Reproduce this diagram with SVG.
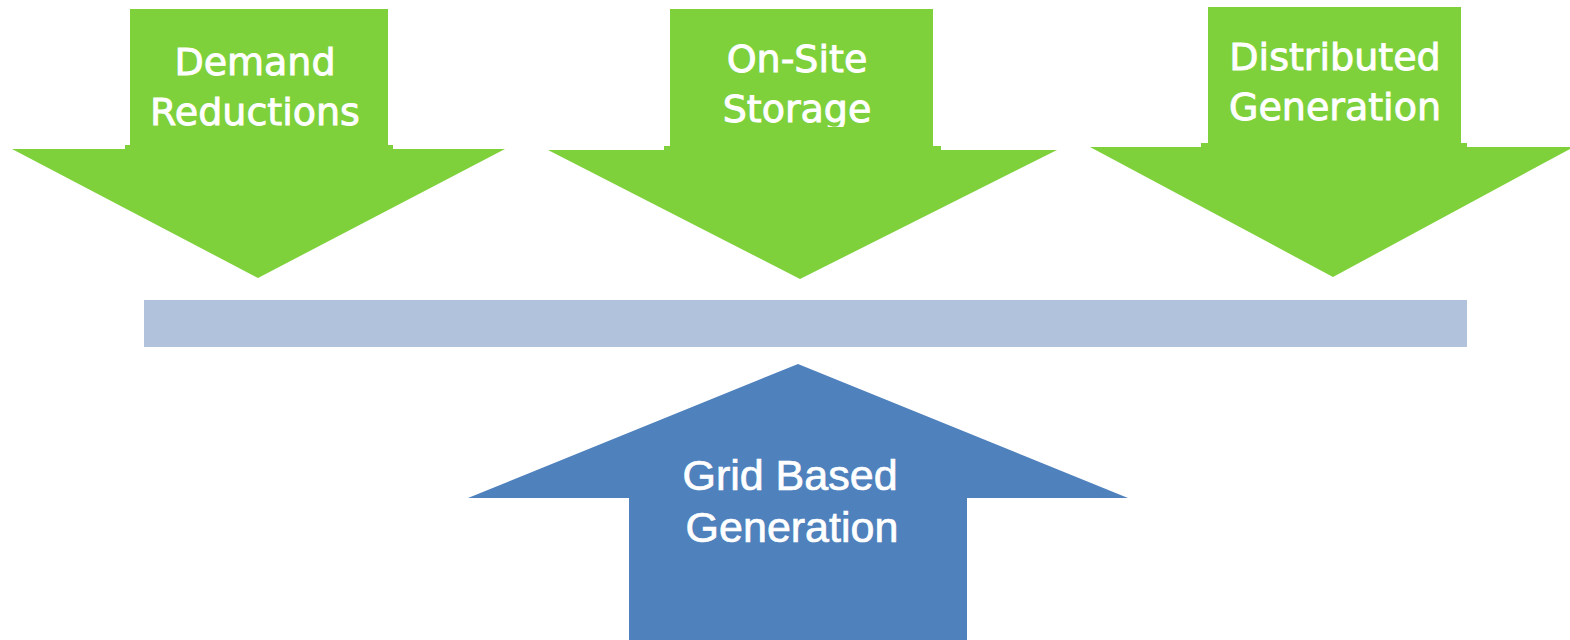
<svg xmlns="http://www.w3.org/2000/svg" width="1570" height="640" viewBox="0 0 1570 640">
<defs>
<style>
.green{fill:#7fd13b}
.blue{fill:#4f81bd}
.bar{fill:#b1c2dc}
.gt{font-family:"DejaVu Sans",Verdana,sans-serif;font-size:38px;fill:#ffffff;stroke:#ffffff;stroke-width:0.9px;text-anchor:middle}
.bt{font-family:"Liberation Sans",Arial,sans-serif;font-size:43px;fill:#ffffff;stroke:#ffffff;stroke-width:0.7px;text-anchor:middle}
</style>
<clipPath id="c1"><rect x="0" y="0" width="1570" height="127"/></clipPath>
</defs>
<rect width="1570" height="640" fill="#ffffff"/>
<g id="connectors"></g>
<g id="bar"><rect class="bar" x="144" y="300" width="1323" height="47"/></g>
<g id="demand">
<polygon class="green" points="130,9 388,9 388,145 393,145 393,149 505,149 258,278 12,149 125,149 125,145 130,145"/>
<g clip-path="url(#c1)">
<text class="gt" x="255" y="75">Demand</text>
<text class="gt" x="255" y="125">Reductions</text>
</g>
</g>
<g id="storage">
<polygon class="green" points="670,9 933,9 933,146 941,146 941,150 1057,150 800,279 548,150 664,150 664,146 670,146"/>
<g clip-path="url(#c1)">
<text class="gt" x="797" y="72">On-Site</text>
<text class="gt" x="797" y="122">Storage</text>
</g>
</g>
<g id="distributed">
<polygon class="green" points="1208,7 1461,7 1461,143 1467,143 1467,147 1570,147 1570,149 1333,277 1090,147 1201,147 1201,143 1208,143"/>
<g clip-path="url(#c1)">
<text class="gt" x="1335" y="70">Distributed</text>
<text class="gt" x="1335" y="120">Generation</text>
</g>
</g>
<g id="grid">
<polygon class="blue" points="798,364 1128,498 967,498 967,640 629,640 629,498 468,498"/>
<text class="bt" x="790" y="490">Grid Based</text>
<text class="bt" x="792" y="542">Generation</text>
</g>
</svg>
